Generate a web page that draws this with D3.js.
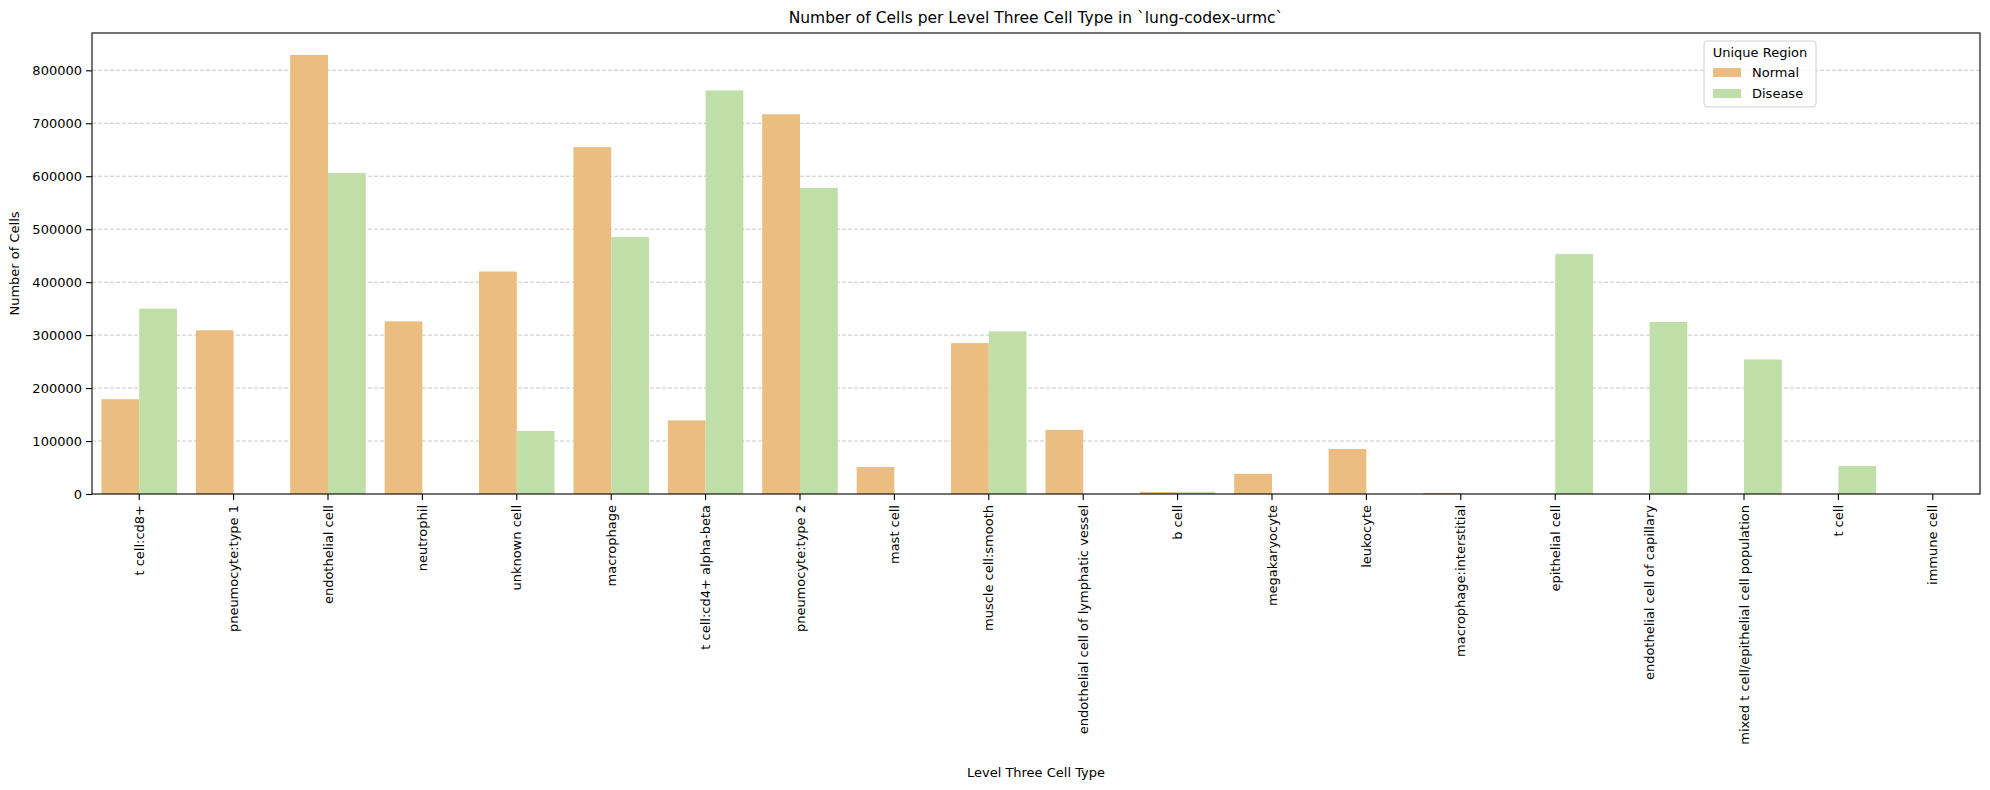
<!DOCTYPE html>
<html>
<head>
<meta charset="utf-8">
<script src="https://cdn.jsdelivr.net/npm/d3@7"></script>
<style>
  body { margin: 0; background: #fff; }
  text { font-family: "DejaVu Sans", sans-serif; fill: #000; }
</style>
</head>
<body>
<svg id="chart" width="1990" height="790"></svg>
<script>
// Data
var cellTypes = [
  't cell:cd8+', 'pneumocyte:type 1', 'endothelial cell', 'neutrophil', 'unknown cell',
  'macrophage', 't cell:cd4+ alpha-beta', 'pneumocyte:type 2', 'mast cell', 'muscle cell:smooth',
  'endothelial cell of lymphatic vessel', 'b cell', 'megakaryocyte', 'leukocyte',
  'macrophage:interstitial', 'epithelial cell', 'endothelial cell of capillary',
  'mixed t cell/epithelial cell population', 't cell', 'immune cell'
];
var regions = ['Normal', 'Disease'];
var normalCounts = [179000, 309000, 829000, 326000, 420000, 655000, 139000, 717000, 51000, 285000,
                    121000, 4000, 38000, 85000, 2000, 0, 0, 0, 0, 0];
var diseaseCounts = [350000, 0, 606000, 0, 119000, 485000, 762000, 578000, 0, 307000,
                     0, 4000, 0, 0, 0, 453000, 325000, 254000, 53000, 0];
var yTicks = [0, 100000, 200000, 300000, 400000, 500000, 600000, 700000, 800000];
var colors = ['#ebbd80', '#c0dea8'];

var margin = {top: 33, right: 10, bottom: 296, left: 92};
var W = 1990, H = 790;
var w = W - margin.left - margin.right;
var h = H - margin.top - margin.bottom;

var svg = d3.select('#chart');
var g = svg.append('g').attr('transform', 'translate(' + margin.left + ',' + margin.top + ')');

var x = d3.scaleBand().domain(cellTypes).range([0, w]).paddingInner(0.2).paddingOuter(0.1);
var xSub = d3.scaleBand().domain(regions).range([0, x.bandwidth()]);
var ymax = d3.max(normalCounts.concat(diseaseCounts)) * 1.05;
var y = d3.scaleLinear().domain([0, ymax]).range([h, 0]);

// grid behind the bars
g.append('g')
  .selectAll('line')
  .data(yTicks.slice(1))
  .join('line')
    .attr('x1', 0).attr('x2', w)
    .attr('y1', d => y(d)).attr('y2', d => y(d))
    .attr('stroke', '#c8c8c8')
    .attr('stroke-width', 1)
    .attr('stroke-dasharray', '4,2');

// bars
var rows = cellTypes.map(function(c, i) {
  return [{region: 'Normal', cell: c, v: normalCounts[i]}, {region: 'Disease', cell: c, v: diseaseCounts[i]}];
});
g.append('g')
  .selectAll('g')
  .data(rows)
  .join('g')
    .attr('transform', d => 'translate(' + x(d[0].cell) + ',0)')
  .selectAll('rect')
  .data(d => d)
  .join('rect')
    .attr('x', d => xSub(d.region))
    .attr('width', xSub.bandwidth())
    .attr('y', d => y(d.v))
    .attr('height', d => h - y(d.v))
    .attr('fill', (d, i) => colors[i]);

// axes
var xAxis = g.append('g')
  .attr('transform', 'translate(0,' + h + ')')
  .call(d3.axisBottom(x).tickSize(6).tickSizeOuter(0));
xAxis.selectAll('text')
  .attr('font-size', 13)
  .attr('transform', 'rotate(-90)')
  .attr('text-anchor', 'end')
  .attr('x', -11)
  .attr('y', 0)
  .attr('dy', '0.35em');

var yAxis = g.append('g')
  .call(d3.axisLeft(y).tickValues(yTicks).tickFormat(d3.format('d')).tickSize(6).tickSizeOuter(0));
yAxis.selectAll('text').attr('font-size', 13).attr('x', -10);

[xAxis, yAxis].forEach(function(a) {
  a.select('.domain').remove();
  a.selectAll('line').attr('stroke', '#000').attr('stroke-width', 1.1);
  a.attr('font-family', null);
});

// frame
g.append('rect')
  .attr('width', w).attr('height', h)
  .attr('fill', 'none').attr('stroke', '#000').attr('stroke-width', 1.1);

// title and labels
svg.append('text')
  .attr('x', margin.left + w / 2).attr('y', 23)
  .attr('text-anchor', 'middle').attr('font-size', 15.5)
  .text('Number of Cells per Level Three Cell Type in `lung-codex-urmc`');

svg.append('text')
  .attr('x', margin.left + w / 2).attr('y', 777)
  .attr('text-anchor', 'middle').attr('font-size', 13)
  .text('Level Three Cell Type');

svg.append('text')
  .attr('transform', 'translate(19,' + (margin.top + h / 2) + ') rotate(-90)')
  .attr('text-anchor', 'middle').attr('font-size', 13)
  .text('Number of Cells');

// legend
var lg = svg.append('g').attr('transform', 'translate(1704,41)');
lg.append('rect')
  .attr('width', 112).attr('height', 66).attr('rx', 3)
  .attr('fill', '#fff').attr('fill-opacity', 0.8)
  .attr('stroke', '#d0d0d0');
lg.append('text')
  .attr('x', 56).attr('y', 16).attr('text-anchor', 'middle').attr('font-size', 13)
  .text('Unique Region');
var items = lg.selectAll('.item')
  .data(regions)
  .join('g')
    .attr('class', 'item')
    .attr('transform', (d, i) => 'translate(9,' + (27 + i * 21) + ')');
items.append('rect')
  .attr('width', 28).attr('height', 9)
  .attr('fill', (d, i) => colors[i]);
items.append('text')
  .attr('x', 39).attr('y', 9).attr('font-size', 13)
  .text(d => d);
</script>
</body>
</html>
